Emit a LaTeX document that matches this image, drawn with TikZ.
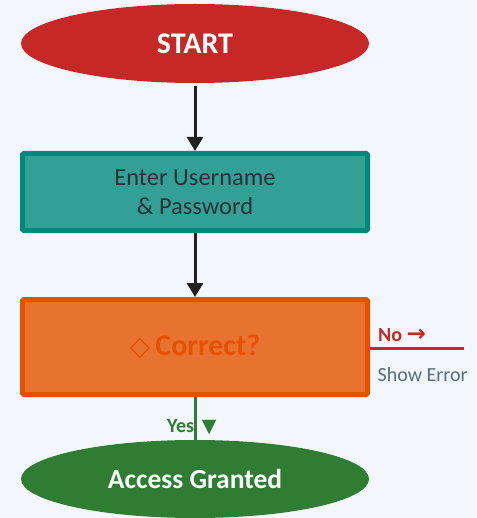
\documentclass[tikz,border=0pt]{standalone}
\usepackage{fontspec}
\setmainfont{Carlito}
\newfontfamily\symfont{DejaVu Sans}
\usetikzlibrary{shapes.geometric,arrows.meta}

\definecolor{bgblue}{HTML}{F3F7FD}
\definecolor{startred}{HTML}{C62828}
\definecolor{tealfill}{HTML}{33A096}
\definecolor{tealline}{HTML}{00897B}
\definecolor{orangefill}{HTML}{E87331}
\definecolor{orangeline}{HTML}{E65100}
\definecolor{okgreen}{HTML}{2E7D32}
\definecolor{darktext}{HTML}{263238}
\definecolor{greytext}{HTML}{546E7A}
\definecolor{arrowblack}{HTML}{212121}

\tikzset{
	terminal/.style={ellipse, inner sep=0pt, minimum width=348pt, minimum height=79pt, text=white, font=\bfseries\fontsize{30}{34}\selectfont},
	processbox/.style={rectangle, rounded corners=1.5pt, line width=5pt, minimum width=345pt},
	flowarrow/.style={line width=3pt, color=arrowblack, -{Triangle[width=16pt,length=14pt]}},
	branchlabel/.style={inner sep=0pt, font=\bfseries\fontsize{20}{24}\selectfont}
}

\begin{document}
\begin{tikzpicture}[x=1pt, y=-1pt]
			%%%%% START %%%%%
			
			\fill[bgblue] (0, 0) rectangle (476, 518);
			\useasboundingbox (0, 0) rectangle (476, 518);
			
			\node[terminal, fill=startred] (start) at (195, 43.5) {START};
			
			\node[processbox, draw=tealline, fill=tealfill, minimum height=77pt, text=darktext, align=center, font=\fontsize{24.5}{29}\selectfont] (login) at (195, 192) {Enter Username\\\& Password};
			
			\node[processbox, draw=orangeline, fill=orangefill, minimum height=95pt, text=orangeline, font=\bfseries\fontsize{30}{34}\selectfont] (check) at (195, 347) {{\symfont\bfseries\fontsize{27}{30}\selectfont ◇}\,Correct?};
			
			\node[terminal, fill=okgreen, minimum height=78pt, font=\bfseries\fontsize{27.5}{31}\selectfont] (granted) at (195, 479) {Access Granted};
			
			\draw[flowarrow, shorten <=3pt] (start) -- (login);
			\draw[flowarrow] (login) -- (check);
			
			% no branch
			\coordinate (errend) at (464, 348);
			\draw[line width=3pt, color=startred] (check.east |- errend) -- (errend);
			\node[branchlabel, text=startred, anchor=base west] (nolabel) at (378, 341) {No {\symfont\fontsize{23}{26}\selectfont →}};
			\node[inner sep=0pt, text=greytext, anchor=base west, font=\fontsize{20}{24}\selectfont] (errlabel) at (377.5, 381) {Show Error};
			
			% yes branch
			\draw[line width=3pt, color=okgreen] (check) -- (granted);
			\node[branchlabel, text=okgreen, anchor=base west] (yeslabel) at (167, 432) {Yes\, {\symfont\fontsize{19}{22}\selectfont ▼}};
			
			%%%%% END %%%%%
		\end{tikzpicture}
\end{document}
